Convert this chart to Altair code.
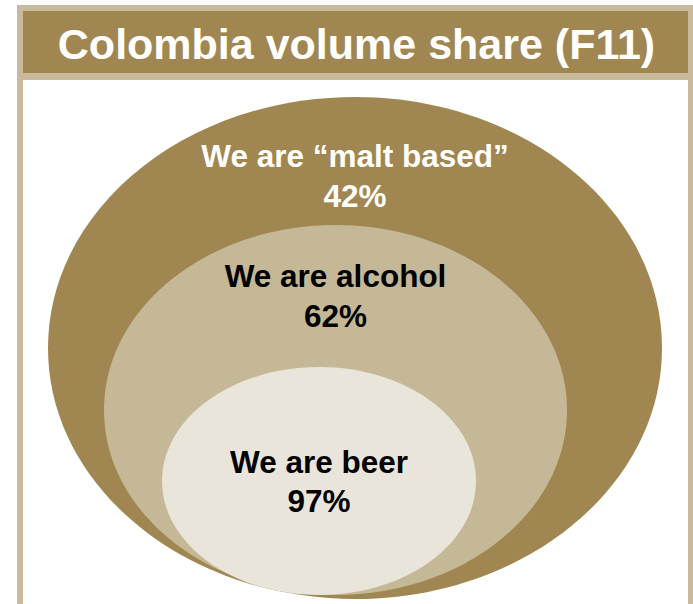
import altair as alt
import pandas as pd

# ---- content ----
title_text = "Colombia volume share (F11)"
labels = ["We are \u201cmalt based\u201d", "We are alcohol", "We are beer"]
shares = ["42%", "62%", "97%"]

# ---- diagram geometry (pixel space) ----
ell_cx = [355, 335.5, 319]
ell_cy = [348, 410, 481]
ell_rx = [307, 231.5, 157]
ell_ry = [251, 185, 114]
ell_color = ["#A08752", "#C5B896", "#EAE5DA"]
label_y = [167, 287, 473]
share_y = [207, 327, 512]
text_color = ["#FFFFFF", "#000000", "#000000"]

W, H = 693, 604

xs = alt.Scale(domain=[0, W], range=[0, W], nice=False, zero=False)
ys = alt.Scale(domain=[0, H], range=[0, H], nice=False, zero=False)

# frame rectangles: beige frame, brown banner, white panel
frame = pd.DataFrame({
    "x": [17, 23, 23],
    "x2": [693, 688, 688],
    "y": [5, 11, 80],
    "y2": [H, 73, H],
    "c": ["#C9BA9B", "#A08752", "#FFFFFF"],
})

rects = alt.Chart(frame).mark_rect(strokeWidth=0).encode(
    x=alt.X("x:Q", scale=xs, axis=None),
    x2="x2:Q",
    y=alt.Y("y:Q", scale=ys, axis=None),
    y2="y2:Q",
    color=alt.Color("c:N", scale=None, legend=None),
)

ell_rows = []
for i in range(3):
    k = ell_ry[i] / ell_rx[i]
    path = f"M-1,0A1,{k:.4f},0,1,1,1,0A1,{k:.4f},0,1,1,-1,0Z"
    ell_rows.append({
        "cx": ell_cx[i], "cy": ell_cy[i],
        "shape": path, "size": 4 * ell_rx[i] ** 2,
        "c": ell_color[i], "order": i,
        "label": labels[i], "share": shares[i],
        "ly": label_y[i], "sy": share_y[i], "tc": text_color[i],
    })
ell = pd.DataFrame(ell_rows)

ellipses = alt.Chart(ell).mark_point(filled=True, opacity=1, strokeWidth=0).encode(
    x=alt.X("cx:Q", scale=xs, axis=None),
    y=alt.Y("cy:Q", scale=ys, axis=None),
    shape=alt.Shape("shape:N", scale=None, legend=None),
    size=alt.Size("size:Q", scale=None, legend=None),
    color=alt.Color("c:N", scale=None, legend=None),
    order=alt.Order("order:Q"),
)

lab = alt.Chart(ell).mark_text(
    font="Liberation Sans", fontWeight="bold", fontSize=31.5,
    align="center", baseline="alphabetic",
).encode(
    x=alt.X("cx:Q", scale=xs, axis=None),
    y=alt.Y("ly:Q", scale=ys, axis=None),
    text="label:N",
    color=alt.Color("tc:N", scale=None, legend=None),
)

pct = alt.Chart(ell).mark_text(
    font="Liberation Sans", fontWeight="bold", fontSize=31.5,
    align="center", baseline="alphabetic",
).encode(
    x=alt.X("cx:Q", scale=xs, axis=None),
    y=alt.Y("sy:Q", scale=ys, axis=None),
    text="share:N",
    color=alt.Color("tc:N", scale=None, legend=None),
)

title_df = pd.DataFrame({"t": [title_text], "x": [356.5], "y": [59]})
title = alt.Chart(title_df).mark_text(
    font="Liberation Sans", fontWeight="bold", fontSize=43,
    align="center", baseline="alphabetic", color="#FFFFFF",
).encode(
    x=alt.X("x:Q", scale=xs, axis=None),
    y=alt.Y("y:Q", scale=ys, axis=None),
    text="t:N",
)

chart = alt.layer(rects, ellipses, lab, pct, title).properties(
    width=W, height=H,
    autosize=alt.AutoSizeParams(type="none"),
    padding=0,
    background="#FFFFFF",
).configure_view(stroke=None, clip=False)

chart.save("out.html", embed_options={"renderer": "svg", "actions": False})
